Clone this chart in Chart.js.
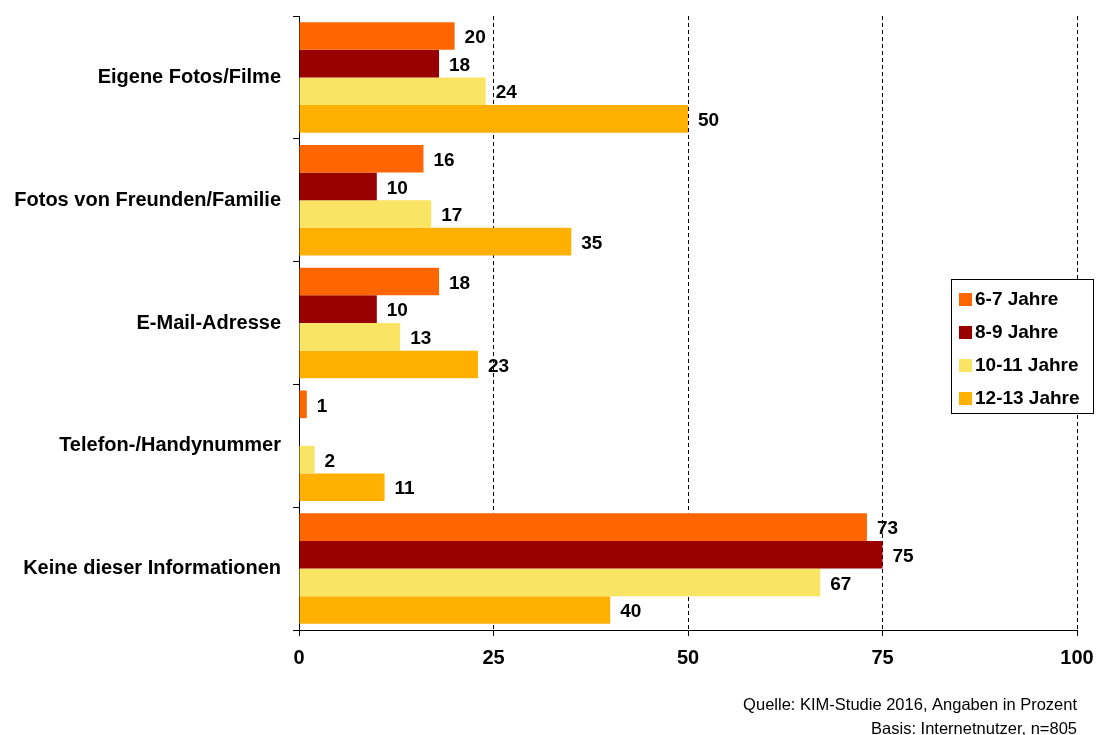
<!DOCTYPE html>
<html lang="de">
<head>
<meta charset="UTF-8">
<title>KIM-Studie 2016</title>
<style>
  html, body { margin: 0; padding: 0; background: #fff; }
  #wrap { width: 1096px; height: 735px; }
</style>
</head>
<body>
<div id="wrap"><canvas id="myChart" width="1096" height="735"></canvas></div>

<script src="https://cdn.jsdelivr.net/npm/chart.js@4/dist/chart.umd.min.js"></script>
<script>
// data
var categories = ['Eigene Fotos/Filme', 'Fotos von Freunden/Familie', 'E-Mail-Adresse', 'Telefon-/Handynummer', 'Keine dieser Informationen'];
var seriesNames = ['6-7 Jahre', '8-9 Jahre', '10-11 Jahre', '12-13 Jahre'];
var age67 = [20, 16, 18, 1, 73];
var age89 = [18, 10, 10, null, 75];
var age1011 = [24, 17, 13, 2, 67];
var age1213 = [50, 35, 23, 11, 40];
var xTicks = [0, 25, 50, 75, 100];
var sourceLines = ['Quelle: KIM-Studie 2016, Angaben in Prozent', 'Basis: Internetnutzer, n=805'];

var colors = ['#FF6600', '#990000', '#F9E463', '#FFB000'];
var FONT = '"Liberation Sans", Arial, sans-serif';

// value labels at the end of each bar
var valueLabels = {
    id: 'valueLabels',
    afterDatasetsDraw: function(chart) {
        var ctx = chart.ctx;
        ctx.save();
        ctx.font = 'bold 19px ' + FONT;
        ctx.fillStyle = '#000';
        ctx.textAlign = 'left';
        ctx.textBaseline = 'middle';
        chart.data.datasets.forEach(function(ds, i) {
            chart.getDatasetMeta(i).data.forEach(function(bar, j) {
                var v = ds.data[j];
                if (v === null || v === undefined) return;
                ctx.fillText(String(v), bar.x + 10, bar.y + 2);
            });
        });
        ctx.restore();
    }
};

// boxed legend on the right, and source note
var boxLegend = {
    id: 'boxLegend',
    afterDraw: function(chart) {
        var ctx = chart.ctx;
        ctx.save();
        var x0 = 951, y0 = 279, w = 142, h = 134;
        ctx.fillStyle = '#fff';
        ctx.fillRect(x0, y0, w, h);
        ctx.strokeStyle = '#000';
        ctx.lineWidth = 1;
        ctx.setLineDash([]);
        ctx.strokeRect(x0 + 0.5, y0 + 0.5, w, h);
        ctx.font = 'bold 19px ' + FONT;
        ctx.textBaseline = 'middle';
        ctx.textAlign = 'left';
        seriesNames.forEach(function(name, i) {
            var cy = y0 + 20 + i * 33;
            ctx.fillStyle = colors[i];
            ctx.fillRect(x0 + 8, cy - 6, 13, 13);
            ctx.fillStyle = '#000';
            ctx.fillText(name, x0 + 24, cy + 1);
        });

        ctx.font = '16.5px ' + FONT;
        ctx.textAlign = 'right';
        ctx.fillStyle = '#000';
        ctx.fillText(sourceLines[0], 1077, 705);
        ctx.fillText(sourceLines[1], 1077, 729);
        ctx.restore();
    }
};

var datasets = [age67, age89, age1011, age1213].map(function(d, i) {
    return {
        label: seriesNames[i],
        data: d,
        backgroundColor: colors[i],
        borderWidth: 0,
        categoryPercentage: 0.9,
        barPercentage: 1.0
    };
});

var ctx = document.getElementById('myChart').getContext('2d');
var myChart = new Chart(ctx, {
    type: 'bar',
    data: { labels: categories, datasets: datasets },
    options: {
        indexAxis: 'y',
        responsive: false,
        animation: false,
        layout: { padding: { top: 16, right: 19, bottom: 60, left: 0 } },
        plugins: {
            legend: { display: false },
            tooltip: { enabled: false }
        },
        scales: {
            x: {
                min: 0,
                max: 100,
                afterBuildTicks: function(scale) {
                    scale.ticks = xTicks.map(function(v) { return { value: v }; });
                },
                afterFit: function(scale) {
                    scale.height = 45;
                    scale.paddingLeft = 0;
                    scale.paddingRight = 0;
                },
                border: { display: true, color: '#000', width: 1, dash: [4, 3] },
                grid: {
                    color: function(c) { return c.tick && c.tick.value === 0 ? 'rgba(0,0,0,0)' : '#000'; },
                    tickColor: '#000',
                    lineWidth: 1,
                    tickBorderDash: [],
                    drawTicks: true,
                    tickLength: 6
                },
                ticks: {
                    color: '#000',
                    padding: 10,
                    font: { family: FONT, size: 20, weight: 'bold' }
                }
            },
            y: {
                afterFit: function(scale) {
                    scale.width = 299;
                    scale.paddingTop = 0;
                    scale.paddingBottom = 0;
                },
                border: { display: true, color: '#000', width: 1 },
                grid: {
                    offset: true,
                    drawOnChartArea: false,
                    drawTicks: true,
                    tickLength: 6,
                    color: '#000'
                },
                ticks: {
                    color: '#000',
                    padding: 12,
                    font: { family: FONT, size: 20, weight: 'bold' }
                }
            }
        }
    },
    plugins: [valueLabels, boxLegend]
});
</script>
</body>
</html>
